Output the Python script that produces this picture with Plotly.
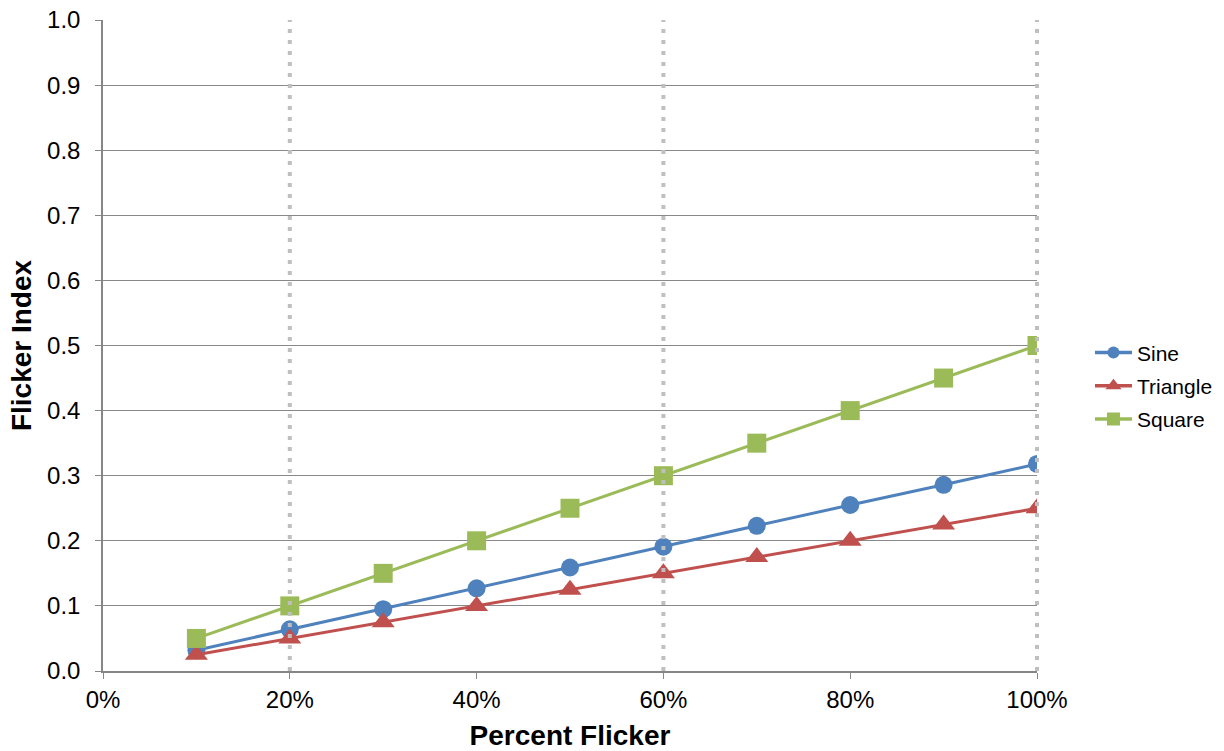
import plotly.graph_objects as go

percent_flicker = [0.1, 0.2, 0.3, 0.4, 0.5, 0.6, 0.7, 0.8, 0.9, 1.0]
sine = [0.032, 0.064, 0.095, 0.127, 0.159, 0.191, 0.223, 0.255, 0.286, 0.318]
triangle = [0.025, 0.05, 0.075, 0.1, 0.125, 0.15, 0.175, 0.2, 0.225, 0.25]
square = [0.05, 0.1, 0.15, 0.2, 0.25, 0.3, 0.35, 0.4, 0.45, 0.5]
x_ticks = [0, 0.2, 0.4, 0.6, 0.8, 1.0]
y_ticks = [0.0, 0.1, 0.2, 0.3, 0.4, 0.5, 0.6, 0.7, 0.8, 0.9, 1.0]
dotted_marks = [0.2, 0.6, 1.0]
x_range = [0, 1]
y_range = [0, 1]

# name, values, colour, symbol, plot marker size, legend marker size
series = [
    ("Sine", sine, "#4F81BD", "circle", 18, 12),
    ("Triangle", triangle, "#C0504D", "triangle-up", 20, 14),
    ("Square", square, "#9BBB59", "square", 19, 13),
]

fig = go.Figure()
for i, (name, vals, color, sym, sz, lsz) in enumerate(series):
    fig.add_trace(go.Scatter(
        x=percent_flicker, y=vals, name=name, mode="lines+markers",
        showlegend=False,
        line=dict(color=color, width=3),
        marker=dict(symbol=sym, size=sz, color=color),
    ))
for i, (name, vals, color, sym, sz, lsz) in enumerate(series):
    # legend entry only (smaller legend symbol as in the reference)
    fig.add_trace(go.Scatter(
        x=[None], y=[None], name=name, mode="lines+markers",
        legendgroup=f"g{i}", showlegend=True, hoverinfo="skip",
        line=dict(color=color, width=3.5),
        marker=dict(symbol=sym, size=lsz, color=color),
    ))

for xv in dotted_marks:
    frac = (xv - x_range[0]) / (x_range[1] - x_range[0])
    fig.add_shape(type="line", xref="x domain", yref="y domain",
                  x0=frac, x1=frac, y0=0, y1=1,
                  line=dict(color="#BFBFBF", width=4, dash="4px,7px"), layer="above")

font_family = "Liberation Sans, Arial, sans-serif"
fig.update_layout(
    width=1224, height=751,
    paper_bgcolor="white", plot_bgcolor="white",
    margin=dict(l=103, r=187, t=20, b=80, autoexpand=False),
    font=dict(family=font_family, size=24, color="black"),
    showlegend=True,
    legend=dict(xref="container", x=0.8905, y=0.438, xanchor="left", yanchor="middle",
                font=dict(size=21), itemwidth=37, tracegroupgap=3,
                traceorder="grouped",
                bgcolor="rgba(0,0,0,0)"),
    xaxis=dict(
        range=x_range, tickvals=x_ticks, tickformat=".0%", automargin=False,
        showgrid=False, zeroline=False,
        showline=True, linecolor="#868686", linewidth=1.5,
        ticks="outside", ticklen=6, tickcolor="#868686",
        title=dict(text="<b>Percent Flicker</b>", font=dict(size=28), standoff=19),
    ),
    yaxis=dict(
        range=y_range, tickvals=y_ticks, tickformat=".1f", automargin=False,
        ticklabeloverflow="allow",
        showgrid=True, gridcolor="#898989", gridwidth=1, zeroline=False,
        showline=True, linecolor="#868686", linewidth=1.5,
        ticks="outside", ticklen=6, tickcolor="#868686", ticklabelstandoff=10,
        title=dict(text="<b>Flicker Index</b>", font=dict(size=28), standoff=7),
    ),
)

fig.write_html("out.html", config={"displayModeBar": False},
               post_script="document.body.style.margin='0';document.body.style.overflow='hidden';")
